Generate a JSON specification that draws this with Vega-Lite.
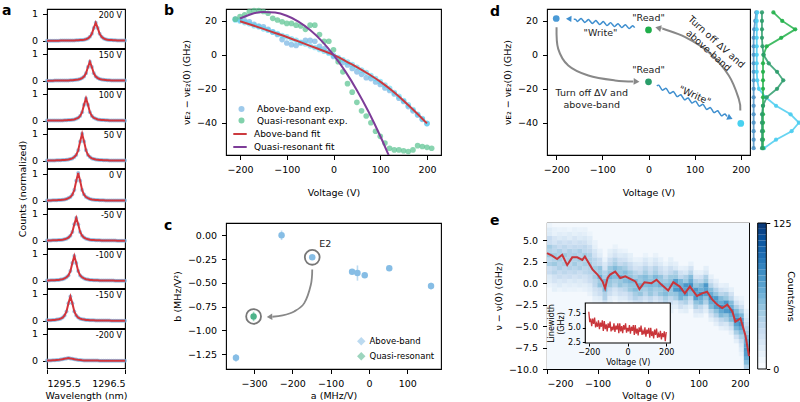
{
"$schema":"https://vega.github.io/schema/vega-lite/v6.json",
"background":"white",
"padding":{"left":2,"top":3,"right":0,"bottom":0},
"config":{
 "font":"DejaVu Sans",
 "view":{"stroke":"black","strokeWidth":1.1},
 "axis":{"domain":false,"grid":false,"tickColor":"black","tickSize":4.5,"tickWidth":1,"tickCount":20,"labelColor":"black","labelFontSize":9.5,"titleFontSize":9.5,"titleFontWeight":"normal","titleColor":"black","titlePadding":5,"labelOverlap":false},
 "axisX":{"labelPadding":4.5,"titlePadding":3},
 "axisY":{"labelPadding":5},
 "legend":{"labelFontSize":9,"labelColor":"black","padding":2,"offset":4,"rowPadding":2,"labelLimit":300},
 "title":{"fontSize":14,"fontWeight":"bold","anchor":"start","offset":0,"baseline":"top","color":"black","frame":"group"}
},
"spacing":33,
"resolve":{"scale":{"color":"independent","stroke":"independent"},"legend":{"color":"independent","stroke":"independent"}},
"hconcat":[
{
 "title":{"text":"a","dx":-45,"dy":14},
 "data":{"values":[
{"w":1295.5,"200 V":0,"150 V":0,"100 V":0.01,"50 V":0.01,"0 V":0.01,"-50 V":0.01,"-100 V":0.01,"-150 V":0.02,"-200 V":0.01},
{"w":1295.525,"200 V":0,"150 V":0,"100 V":0.01,"50 V":0.01,"0 V":0.01,"-50 V":0.01,"-100 V":0.01,"-150 V":0.02,"-200 V":0.01},
{"w":1295.55,"200 V":0,"150 V":0,"100 V":0.01,"50 V":0.01,"0 V":0.01,"-50 V":0.01,"-100 V":0.02,"-150 V":0.02,"-200 V":0.01},
{"w":1295.575,"200 V":0,"150 V":0,"100 V":0.01,"50 V":0.01,"0 V":0.02,"-50 V":0.02,"-100 V":0.02,"-150 V":0.03,"-200 V":0.02},
{"w":1295.6,"200 V":0,"150 V":0.01,"100 V":0.01,"50 V":0.01,"0 V":0.02,"-50 V":0.02,"-100 V":0.02,"-150 V":0.03,"-200 V":0.02},
{"w":1295.625,"200 V":0,"150 V":0.01,"100 V":0.01,"50 V":0.02,"0 V":0.02,"-50 V":0.02,"-100 V":0.03,"-150 V":0.05,"-200 V":0.03},
{"w":1295.65,"200 V":0,"150 V":0.01,"100 V":0.01,"50 V":0.02,"0 V":0.03,"-50 V":0.03,"-100 V":0.03,"-150 V":0.06,"-200 V":0.035},
{"w":1295.675,"200 V":0.01,"150 V":0.01,"100 V":0.01,"50 V":0.02,"0 V":0.03,"-50 V":0.03,"-100 V":0.05,"-150 V":0.08,"-200 V":0.045},
{"w":1295.7,"200 V":0.01,"150 V":0.01,"100 V":0.01,"50 V":0.03,"0 V":0.04,"-50 V":0.04,"-100 V":0.06,"-150 V":0.12,"-200 V":0.06},
{"w":1295.725,"200 V":0.01,"150 V":0.01,"100 V":0.02,"50 V":0.03,"0 V":0.05,"-50 V":0.06,"-100 V":0.09,"-150 V":0.2,"-200 V":0.075},
{"w":1295.75,"200 V":0.01,"150 V":0.01,"100 V":0.02,"50 V":0.04,"0 V":0.07,"-50 V":0.08,"-100 V":0.13,"-150 V":0.35,"-200 V":0.09},
{"w":1295.775,"200 V":0.01,"150 V":0.01,"100 V":0.03,"50 V":0.05,"0 V":0.1,"-50 V":0.12,"-100 V":0.2,"-150 V":0.65,"-200 V":0.1},
{"w":1295.8,"200 V":0.01,"150 V":0.02,"100 V":0.03,"50 V":0.07,"0 V":0.14,"-50 V":0.19,"-100 V":0.36,"-150 V":0.9,"-200 V":0.09},
{"w":1295.825,"200 V":0.01,"150 V":0.02,"100 V":0.04,"50 V":0.09,"0 V":0.23,"-50 V":0.33,"-100 V":0.66,"-150 V":0.65,"-200 V":0.075},
{"w":1295.85,"200 V":0.01,"150 V":0.03,"100 V":0.05,"50 V":0.14,"0 V":0.4,"-50 V":0.61,"-100 V":0.92,"-150 V":0.35,"-200 V":0.06},
{"w":1295.875,"200 V":0.02,"150 V":0.04,"100 V":0.08,"50 V":0.22,"0 V":0.74,"-50 V":0.85,"-100 V":0.66,"-150 V":0.2,"-200 V":0.045},
{"w":1295.9,"200 V":0.02,"150 V":0.05,"100 V":0.11,"50 V":0.39,"0 V":1.03,"-50 V":0.61,"-100 V":0.36,"-150 V":0.12,"-200 V":0.035},
{"w":1295.925,"200 V":0.03,"150 V":0.07,"100 V":0.18,"50 V":0.72,"0 V":0.74,"-50 V":0.33,"-100 V":0.2,"-150 V":0.08,"-200 V":0.027},
{"w":1295.95,"200 V":0.03,"150 V":0.1,"100 V":0.32,"50 V":1.0,"0 V":0.4,"-50 V":0.19,"-100 V":0.13,"-150 V":0.06,"-200 V":0.02},
{"w":1295.975,"200 V":0.04,"150 V":0.16,"100 V":0.6,"50 V":0.72,"0 V":0.23,"-50 V":0.12,"-100 V":0.09,"-150 V":0.05,"-200 V":0.015},
{"w":1296.0,"200 V":0.06,"150 V":0.28,"100 V":0.83,"50 V":0.39,"0 V":0.14,"-50 V":0.08,"-100 V":0.06,"-150 V":0.03,"-200 V":0.012},
{"w":1296.025,"200 V":0.09,"150 V":0.51,"100 V":0.6,"50 V":0.22,"0 V":0.1,"-50 V":0.06,"-100 V":0.05,"-150 V":0.03,"-200 V":0.01},
{"w":1296.05,"200 V":0.15,"150 V":0.71,"100 V":0.32,"50 V":0.14,"0 V":0.07,"-50 V":0.04,"-100 V":0.03,"-150 V":0.02,"-200 V":0.01},
{"w":1296.075,"200 V":0.26,"150 V":0.51,"100 V":0.18,"50 V":0.09,"0 V":0.05,"-50 V":0.03,"-100 V":0.03,"-150 V":0.02,"-200 V":0.01},
{"w":1296.1,"200 V":0.48,"150 V":0.28,"100 V":0.11,"50 V":0.07,"0 V":0.04,"-50 V":0.03,"-100 V":0.02,"-150 V":0.02,"-200 V":0.01},
{"w":1296.125,"200 V":0.67,"150 V":0.16,"100 V":0.08,"50 V":0.05,"0 V":0.03,"-50 V":0.02,"-100 V":0.02,"-150 V":0.01,"-200 V":0.01},
{"w":1296.15,"200 V":0.48,"150 V":0.1,"100 V":0.05,"50 V":0.04,"0 V":0.03,"-50 V":0.02,"-100 V":0.02,"-150 V":0.01,"-200 V":0.01},
{"w":1296.175,"200 V":0.26,"150 V":0.07,"100 V":0.04,"50 V":0.03,"0 V":0.02,"-50 V":0.02,"-100 V":0.01,"-150 V":0.01,"-200 V":0},
{"w":1296.2,"200 V":0.15,"150 V":0.05,"100 V":0.03,"50 V":0.03,"0 V":0.02,"-50 V":0.01,"-100 V":0.01,"-150 V":0.01,"-200 V":0},
{"w":1296.225,"200 V":0.09,"150 V":0.04,"100 V":0.03,"50 V":0.02,"0 V":0.02,"-50 V":0.01,"-100 V":0.01,"-150 V":0.01,"-200 V":0},
{"w":1296.25,"200 V":0.06,"150 V":0.03,"100 V":0.02,"50 V":0.02,"0 V":0.01,"-50 V":0.01,"-100 V":0.01,"-150 V":0.01,"-200 V":0},
{"w":1296.275,"200 V":0.04,"150 V":0.02,"100 V":0.02,"50 V":0.02,"0 V":0.01,"-50 V":0.01,"-100 V":0.01,"-150 V":0.01,"-200 V":0},
{"w":1296.3,"200 V":0.03,"150 V":0.02,"100 V":0.01,"50 V":0.01,"0 V":0.01,"-50 V":0.01,"-100 V":0.01,"-150 V":0.01,"-200 V":0},
{"w":1296.325,"200 V":0.03,"150 V":0.01,"100 V":0.01,"50 V":0.01,"0 V":0.01,"-50 V":0.01,"-100 V":0.01,"-150 V":0,"-200 V":0},
{"w":1296.35,"200 V":0.02,"150 V":0.01,"100 V":0.01,"50 V":0.01,"0 V":0.01,"-50 V":0.01,"-100 V":0.01,"-150 V":0,"-200 V":0},
{"w":1296.375,"200 V":0.02,"150 V":0.01,"100 V":0.01,"50 V":0.01,"0 V":0.01,"-50 V":0.01,"-100 V":0,"-150 V":0,"-200 V":0},
{"w":1296.4,"200 V":0.01,"150 V":0.01,"100 V":0.01,"50 V":0.01,"0 V":0.01,"-50 V":0,"-100 V":0,"-150 V":0,"-200 V":0},
{"w":1296.425,"200 V":0.01,"150 V":0.01,"100 V":0.01,"50 V":0.01,"0 V":0.01,"-50 V":0,"-100 V":0,"-150 V":0,"-200 V":0},
{"w":1296.45,"200 V":0.01,"150 V":0.01,"100 V":0.01,"50 V":0.01,"0 V":0.01,"-50 V":0,"-100 V":0,"-150 V":0,"-200 V":0},
{"w":1296.475,"200 V":0.01,"150 V":0.01,"100 V":0.01,"50 V":0.01,"0 V":0.01,"-50 V":0,"-100 V":0,"-150 V":0,"-200 V":0},
{"w":1296.5,"200 V":0.01,"150 V":0.01,"100 V":0,"50 V":0.01,"0 V":0.01,"-50 V":0,"-100 V":0,"-150 V":0,"-200 V":0}
 ]},
 "transform":[{"fold":["200 V","150 V","100 V","50 V","0 V","-50 V","-100 V","-150 V","-200 V"],"as":["V","c"]}],
 "facet":{"row":{"field":"V","type":"nominal","title":"Counts (normalized)","sort":["200 V","150 V","100 V","50 V","0 V","-50 V","-100 V","-150 V","-200 V"],"header":{"labels":false,"labelPadding":0,"titleFontSize":9.5,"titleFontWeight":"normal","titleColor":"black","titlePadding":-6}}},
 "spacing":0,
 "bounds":"flush",
 "spec":{
  "width":78,"height":39.1,
  "layer":[
   {"mark":{"type":"point","filled":true,"size":16,"color":"#7eb2de","opacity":0.75},
    "encoding":{
     "x":{"field":"w","type":"quantitative","scale":{"domain":[1295.5,1296.5],"nice":false,"zero":false},"axis":{"values":[1295.5,1296.5],"format":".1f","title":"Wavelength (nm)"}},
     "y":{"field":"c","type":"quantitative","scale":{"domain":[-0.27,1.18],"nice":false,"zero":false},"axis":{"values":[0,1],"format":"d","title":null}}}},
   {"mark":{"type":"line","color":"#d3343b","strokeWidth":2},
    "encoding":{"x":{"field":"w","type":"quantitative"},"y":{"field":"c","type":"quantitative"}}},
   {"transform":[{"filter":"datum.w == 1295.5"}],
    "mark":{"type":"text","align":"right","baseline":"top","fontSize":8,"dx":-3,"dy":3,"color":"black"},
    "encoding":{"x":{"datum":1296.5},"y":{"datum":1.18},"text":{"field":"V"}}}
  ]
 }
},
{
 "spacing":15,
 "resolve":{"scale":{"color":"independent","stroke":"independent"},"legend":{"color":"independent","stroke":"independent"}},
 "vconcat":[
 {
  "spacing":47,
  "resolve":{"scale":{"color":"independent","stroke":"independent"},"legend":{"color":"independent","stroke":"independent"}},
  "hconcat":[
  {
   "title":{"text":"b","dx":-62,"dy":14},
   "width":215,"height":146,
   "layer":[
    {"data":{"values":[{"s":"Above-band exp.","v":[-210,-200,-190,-180,-170,-160,-150,-140,-130,-120,-110,-100,-90,-80,-70,-60,-50,-40,-30,-20,-10,0,10,20,30,40,50,60,70,80,90,100,110,120,130,140,150,160,170,180,190,200],"y":[21,20.5,20,19.5,18,17,16.5,15,13.5,12,9,7,6,5.5,7,8.5,8.5,8,5,3.5,1.5,-1,-2.5,-4.5,-6,-8,-10,-11.5,-13.5,-14,-16,-17.5,-19.5,-21,-23,-25.5,-27.5,-30.5,-33,-35.5,-38,-40.5]}]},
     "transform":[{"flatten":["v","y"]}],
     "mark":{"type":"point","filled":true,"size":32,"opacity":0.8},
     "encoding":{
      "x":{"field":"v","type":"quantitative","scale":{"domain":[-230,230],"nice":false,"zero":false},"axis":{"values":[-200,-100,0,100,200],"title":"Voltage (V)","titlePadding":14}},
      "y":{"field":"y","type":"quantitative","scale":{"domain":[-59,27],"nice":false,"zero":false},"axis":{"values":[-40,-20,0,20],"title":"νᴇ₂ − νᴇ₂(0) (GHz)"}},
      "color":{"field":"s","type":"nominal","scale":{"domain":["Above-band exp.","Quasi-resonant exp."],"range":["#86bde6","#62c596"]},"legend":{"orient":"none","legendX":9,"legendY":93.5,"title":null,"symbolType":"circle","symbolSize":36,"labelOffset":11,"rowPadding":1.5}}}},
    {"data":{"values":[{"v":[-210,-200,-190,-180,-170,-160,-150,-140,-130,-120,-110,-100,-90,-80,-70,-60,-50,-40,-30,-20,-10,0,10,20,30,40,50,60,70,80,90,100,110,120,130,140,150,160,170,180,190,200],"y":[20.5,19.9,19.0,18.3,17.2,16.5,15.3,14.5,13.4,12.5,11.4,10.6,9.5,8.6,7.4,6.4,5.3,4.3,3.2,2.1,1.0,-0.3,-1.6,-2.9,-4.3,-5.7,-7.3,-9,-10.5,-12.2,-14,-15.8,-17.8,-19.8,-22.2,-24.5,-27,-29.5,-32.2,-35,-37.6,-40.4]}]},
     "transform":[{"flatten":["v","y"]}],
     "mark":{"type":"point","filled":true,"size":32,"opacity":0.55,"color":"#4fd2f2"},
     "encoding":{"x":{"field":"v","type":"quantitative"},"y":{"field":"y","type":"quantitative"}}},
    {"data":{"values":[{"s":"Quasi-resonant exp.","v":[-210,-200,-190,-180,-170,-160,-150,-140,-130,-120,-110,-100,-90,-80,-70,-60,-50,-40,-30,-20,-10,0,10,20,30,40,50,60,70,80,90,100,110,120,130,140,150,160,170,180,190,200,210],"y":[21,22.5,23.5,25.5,26,26,25.5,24.5,21.5,20.5,19.5,18.5,18.5,17.5,17,15,17.5,17.5,12,8,8,3,-4,-10,-17,-22,-28,-33,-36,-40,-45,-48,-52,-55,-56,-56,-56.5,-57,-56,-53.5,-54,-54.5,-55]}]},
     "transform":[{"flatten":["v","y"]}],
     "mark":{"type":"point","filled":true,"size":32,"opacity":0.75},
     "encoding":{"x":{"field":"v","type":"quantitative"},"y":{"field":"y","type":"quantitative"},
      "color":{"field":"s","type":"nominal","scale":{"domain":["Above-band exp.","Quasi-resonant exp."],"range":["#86bde6","#62c596"]},"legend":{"orient":"none","legendX":9,"legendY":93.5,"title":null,"symbolType":"circle","symbolSize":36,"labelOffset":11,"rowPadding":1.5}}}},
    {"data":{"values":[
      {"f":"Above-band fit","v":[-200,-175,-150,-125,-100,-75,-50,-25,0,25,50,75,100,125,150,175,200],"y":[19.8,17.6,15.3,12.9,10.5,7.9,5.3,2.7,0,-3.5,-7.2,-11.3,-15.8,-21,-27,-33.5,-40.4]},
      {"f":"Quasi-resonant fit","v":[-200,-175,-150,-125,-100,-75,-50,-25,0,25,50,75,100,125],"y":[21.4,24.1,25.3,24.9,23.0,19.6,14.6,8.1,0,-9.6,-20.8,-33.5,-47.8,-63.6]}]},
     "transform":[{"flatten":["v","y"]}],
     "mark":{"type":"line","strokeWidth":2,"clip":true,"interpolate":"monotone"},
     "encoding":{"x":{"field":"v","type":"quantitative"},"y":{"field":"y","type":"quantitative"},
      "stroke":{"field":"f","type":"nominal","scale":{"domain":["Above-band fit","Quasi-resonant fit"],"range":["#cc3a3f","#7d3c98"]},"legend":{"orient":"none","legendX":4,"legendY":115,"title":null,"symbolType":"stroke","symbolStrokeWidth":2,"symbolSize":180,"labelOffset":6,"rowPadding":-1.5}}}}
   ]
  },
  {
   "title":{"text":"d","dx":-57,"dy":14},
   "width":203,"height":146,
   "layer":[
    {"layer":[
     {"data":{"values":[
       {"id":"a1","x":[-199.3,-195.7,-173.9,-130.4,-72.6,-33],"y":[16.3,3.5,-6.3,-12.2,-15.1,-15.7]},
       {"id":"a2","x":[199,195.6,174,130,79.6,36,28],"y":[-32.8,-25.9,-12.2,1.6,10.4,14.9,15.5]}]},
      "transform":[{"flatten":["x","y"]}],
      "mark":{"type":"line","interpolate":"cardinal","color":"#888888","strokeWidth":2},
      "encoding":{
       "x":{"field":"x","type":"quantitative","scale":{"domain":[-220,220],"nice":false,"zero":false},"axis":{"values":[-200,-100,0,100,200],"title":"Voltage (V)","titlePadding":14}},
       "y":{"field":"y","type":"quantitative","scale":{"domain":[-59,27],"nice":false,"zero":false},"axis":{"values":[-40,-20,0,20],"title":"νᴇ₂ − νᴇ₂(0) (GHz)"}},
       "detail":{"field":"id"}}},
     {"data":{"values":[{"x":-28,"y":-15.7,"a":92},{"x":23,"y":15.7,"a":283}]},
      "mark":{"type":"point","shape":"triangle","filled":true,"size":45,"color":"#888888","opacity":1},
      "encoding":{"x":{"field":"x","type":"quantitative"},"y":{"field":"y","type":"quantitative"},"angle":{"field":"a","type":"quantitative","scale":null}}},
     {"data":{"values":[
       {"id":"w1","x":[-30,-34,-38,-42,-46,-50,-54,-58,-62,-66,-70,-74,-78,-82,-86,-90,-94,-98,-102,-106,-110,-114,-118,-122,-126,-130,-134,-138,-142,-146,-150,-154,-158,-162],"y":[16.0,17.15,16.3,15.45,16.6,17.76,16.9,16.06,17.2,18.36,17.5,16.67,17.8,18.97,18.1,17.27,18.4,19.58,18.7,17.88,19.0,20.18,19.33,18.48,19.64,20.79,19.94,19.1,20.24,21.4,20.55,19.7,20.85,21.0]},
       {"id":"w2","x":[18,22,26,30,34,38,42,46,50,54,58,62,66,70,74,78,82,86,90,94,98,102,106,110,114,118,122,126,130,134,138,142,146,150,154,158,162,166,170],"y":[-18.4,-17.87,-19.34,-20.81,-20.28,-19.76,-21.23,-22.7,-22.17,-21.64,-23.11,-24.58,-24.05,-23.52,-24.99,-26.47,-25.94,-25.41,-26.88,-28.35,-27.82,-27.29,-28.76,-30.23,-29.7,-29.18,-30.65,-32.12,-31.59,-31.06,-32.53,-34.0,-33.47,-32.94,-34.41,-35.89,-35.36,-34.83,-36.3]}]},
      "transform":[{"flatten":["x","y"]}],
      "mark":{"type":"line","interpolate":"cardinal","color":"#3f8fcf","strokeWidth":1.5},
      "encoding":{"x":{"field":"x","type":"quantitative"},"y":{"field":"y","type":"quantitative"},"detail":{"field":"id"}}},
     {"data":{"values":[{"x":-171,"y":21.2,"a":273},{"x":175,"y":-36.9,"a":114}]},
      "mark":{"type":"point","shape":"triangle","filled":true,"size":40,"color":"#3f8fcf","opacity":1},
      "encoding":{"x":{"field":"x","type":"quantitative"},"y":{"field":"y","type":"quantitative"},"angle":{"field":"a","type":"quantitative","scale":null}}},
     {"data":{"values":[{"x":-200,"y":21.4,"k":"pa"},{"x":0,"y":14.7,"k":"pb"},{"x":0,"y":-15.9,"k":"pc"},{"x":200,"y":-40.4,"k":"pd"}]},
      "mark":{"type":"point","filled":true,"size":45,"opacity":1},
      "encoding":{"x":{"field":"x","type":"quantitative"},"y":{"field":"y","type":"quantitative"},
       "color":{"field":"k","type":"nominal","scale":{"domain":["pa","pb","pc","pd"],"range":["#4a9ad6","#1fae4a","#2a9d6a","#48d1f0"]},"legend":null}}},
     {"data":{"values":[
       {"x":0,"y":21.8,"t":"\"Read\"","a":0},
       {"x":-104,"y":12.6,"t":"\"Write\"","a":0},
       {"x":0,"y":-8.8,"t":"\"Read\"","a":0},
       {"x":-123,"y":-22.5,"t":"Turn off ΔV and","a":0},
       {"x":-123,"y":-29.8,"t":"above-band","a":0},
       {"x":100,"y":-24,"t":"\"Write\"","a":24},
       {"x":147,"y":7.5,"t":"Turn off ΔV and","a":42},
       {"x":130,"y":2.5,"t":"above-band","a":42}]},
      "mark":{"type":"text","fontSize":9.5,"align":"center","baseline":"middle","color":"#222222"},
      "encoding":{"x":{"field":"x","type":"quantitative"},"y":{"field":"y","type":"quantitative"},"text":{"field":"t"},"angle":{"field":"a","type":"quantitative","scale":null}}}
    ]},
    {"data":{"values":[
      {"s":"sb","g":[25,20,15,10,5,0,-5,-10,-15,-20,-25,-30,-35,-40,-45,-50,-55],"x":[0.12,0.1,0.08,0.07,0.07,0.07,0.07,0.07,0.07,0.07,0.07,0.07,0.07,0.07,0.07,0.07,0.07]},
      {"s":"sc","g":[25,20,15,10,5,0,-5,-10,-15,-20,-25,-30,-35,-40,-45,-50,-55],"x":[0.14,0.13,0.13,0.13,0.13,0.13,0.13,0.13,0.14,0.17,0.3,0.5,0.78,0.94,0.8,0.5,0.27]},
      {"s":"sg","g":[25,20,15,10,5,0,-5,-10,-15,-20,-25,-30,-35,-40,-45,-50,-55],"x":[0.45,0.62,0.87,0.6,0.32,0.26,0.25,0.25,0.25,0.25,0.25,0.25,0.25,0.25,0.25,0.25,0.25]},
      {"s":"sd","g":[25,20,15,10,5,0,-5,-10,-15,-20,-25,-30,-35,-40,-45,-50,-55],"x":[0.23,0.23,0.23,0.23,0.24,0.26,0.36,0.52,0.64,0.52,0.32,0.25,0.23,0.23,0.23,0.23,0.23]}]},
     "transform":[{"flatten":["g","x"]}],
     "layer":[
      {"mark":{"type":"line","strokeWidth":1.8,"opacity":0.85},
       "encoding":{
        "x":{"field":"x","type":"quantitative","scale":{"domain":[0,1],"range":[203,255]},"axis":null},
        "y":{"field":"g","type":"quantitative","scale":{"domain":[-59,27],"nice":false,"zero":false}},
        "color":{"field":"s","type":"nominal","scale":{"domain":["sb","sc","sg","sd"],"range":["#4f93c6","#4ccdef","#22b04a","#2e9c6c"]},"legend":null},
        "order":{"field":"g","type":"quantitative"}}},
      {"mark":{"type":"point","filled":true,"size":18,"opacity":0.9},
       "encoding":{
        "x":{"field":"x","type":"quantitative"},
        "y":{"field":"g","type":"quantitative"},
        "color":{"field":"s","type":"nominal","legend":null}}}
     ]}
   ],
   "resolve":{"scale":{"x":"independent","color":"independent"}}
  }
  ]
 },
 {
  "spacing":47,
  "resolve":{"scale":{"color":"independent","stroke":"independent"},"legend":{"color":"independent","stroke":"independent"}},
  "hconcat":[
  {
   "title":{"text":"c","dx":-62,"dy":14},
   "width":215,"height":146,
   "layer":[
    {"data":{"values":[
      {"s":"Above-band","a":-347,"b":-1.288,"lo":-1.328,"hi":-1.248},
      {"s":"Above-band","a":-228,"b":0.0,"lo":-0.05,"hi":0.05},
      {"s":"Above-band","a":-148,"b":-0.232,"lo":-0.252,"hi":-0.212},
      {"s":"Above-band","a":-44,"b":-0.383,"lo":-0.403,"hi":-0.363},
      {"s":"Above-band","a":-30,"b":-0.397,"lo":-0.477,"hi":-0.317},
      {"s":"Above-band","a":-11,"b":-0.421,"lo":-0.441,"hi":-0.401},
      {"s":"Above-band","a":53,"b":-0.347,"lo":-0.362,"hi":-0.332},
      {"s":"Above-band","a":162,"b":-0.534,"lo":-0.569,"hi":-0.499},
      {"s":"Quasi-resonant","a":-301,"b":-0.853,"lo":-0.903,"hi":-0.803}]},
     "layer":[
      {"mark":{"type":"rule","strokeWidth":1.6,"opacity":0.55},
       "encoding":{
        "x":{"field":"a","type":"quantitative","scale":{"domain":[-373,188],"nice":false,"zero":false},"axis":{"values":[-300,-200,-100,0,100],"title":"a (MHz/V)"}},
        "y":{"field":"lo","type":"quantitative","scale":{"domain":[-1.405,0.129],"nice":false,"zero":false},"axis":{"values":[-1.25,-1,-0.75,-0.5,-0.25,0],"format":".2f","title":"b (MHz/V²)"}},
        "y2":{"field":"hi"},
        "color":{"field":"s","type":"nominal","scale":{"domain":["Above-band","Quasi-resonant"],"range":["#86bde5","#4db389"]},"legend":{"orient":"bottom-right","title":null,"symbolType":"diamond","symbolSize":40,"offset":4,"rowPadding":2,"labelFontSize":8.5}}}},
      {"mark":{"type":"point","filled":true,"size":42,"opacity":1},
       "encoding":{
        "x":{"field":"a","type":"quantitative"},
        "y":{"field":"b","type":"quantitative"},
        "color":{"field":"s","type":"nominal","scale":{"domain":["Above-band","Quasi-resonant"],"range":["#86bde5","#4db389"]},"legend":{"orient":"bottom-right","title":null,"symbolType":"diamond","symbolSize":40,"offset":4,"rowPadding":2,"labelFontSize":8.5}}}}
     ]},
    {"data":{"values":[{"a":-148,"b":-0.232},{"a":-301,"b":-0.853}]},
     "mark":{"type":"point","shape":"circle","size":220,"stroke":"#777777","strokeWidth":1.8,"filled":false,"opacity":1},
     "encoding":{"x":{"field":"a","type":"quantitative"},"y":{"field":"b","type":"quantitative"}}},
    {"data":{"values":[{"x":[-148,-151.6,-168.8,-195,-225,-252],"y":[-0.36,-0.52,-0.713,-0.8,-0.842,-0.856]}]},
     "transform":[{"flatten":["x","y"]}],
     "mark":{"type":"line","interpolate":"cardinal","color":"#888888","strokeWidth":1.8},
     "encoding":{"x":{"field":"x","type":"quantitative"},"y":{"field":"y","type":"quantitative"}}},
    {"data":{"values":[{"x":-257,"y":-0.857,"a":268}]},
     "mark":{"type":"point","shape":"triangle","filled":true,"size":40,"color":"#888888","opacity":1},
     "encoding":{"x":{"field":"x","type":"quantitative"},"y":{"field":"y","type":"quantitative"},"angle":{"field":"a","type":"quantitative","scale":null}}},
    {"data":{"values":[{"x":-114,"y":-0.092,"t":"E2"}]},
     "mark":{"type":"text","fontSize":9.5,"align":"center","baseline":"middle","color":"#222222"},
     "encoding":{"x":{"field":"x","type":"quantitative"},"y":{"field":"y","type":"quantitative"},"text":{"field":"t"}}}
   ]
  },
  {
   "title":{"text":"e","dx":-57,"dy":14},
   "width":202,"height":146,
   "layer":[
    {"layer":[
     {"data":{"values":[{"x0":-200,"x1":200,"y0":-10,"y1":7}]},
      "mark":{"type":"rect","fill":"#f3f8fd"},
      "encoding":{
       "x":{"field":"x0","type":"quantitative","scale":{"domain":[-200,200],"nice":false,"zero":false},"axis":{"values":[-200,-100,0,100,200],"title":"Voltage (V)"}},
       "x2":{"field":"x1"},
       "y":{"field":"y0","type":"quantitative","scale":{"domain":[-10,7],"nice":false,"zero":false},"axis":{"values":[-10,-7.5,-5,-2.5,0,2.5,5],"format":".1f","title":"ν − ν(0) (GHz)"}},
       "y2":{"field":"y1"}}},
     {"data":{"values":[
{"v":-195,"y":[-0.25,0.25,0.75,1.25,1.75,2.25,2.75,3.25,3.75,4.25,4.75,5.25,5.75,6.25,6.75],"c":[8,15,17,30,27,42,35,48,38,44,28,30,16,15,7]},
{"v":-185,"y":[-0.75,-0.25,0.25,0.75,1.25,1.75,2.25,2.75,3.25,3.75,4.25,4.75,5.25,5.75,6.25],"c":[11,12,22,24,36,33,47,40,45,35,36,22,21,10,10]},
{"v":-175,"y":[-0.75,-0.25,0.25,0.75,1.25,1.75,2.25,2.75,3.25,3.75,4.25,4.75,5.25,5.75,6.25],"c":[7,16,18,29,30,40,38,46,39,41,30,29,17,14,8]},
{"v":-165,"y":[-0.75,-0.25,0.25,0.75,1.25,1.75,2.25,2.75,3.25,3.75,4.25,4.75,5.25,5.75,6.25],"c":[10,11,21,25,35,34,44,38,47,33,35,24,20,12,9]},
{"v":-155,"y":[-0.75,-0.25,0.25,0.75,1.25,1.75,2.25,2.75,3.25,3.75,4.25,4.75,5.25,5.75,6.25],"c":[8,14,16,28,31,39,36,44,40,40,29,28,15,15,6]},
{"v":-145,"y":[-0.75,-0.25,0.25,0.75,1.25,1.75,2.25,2.75,3.25,3.75,4.25,4.75,5.25,5.75,6.25],"c":[9,12,20,23,34,36,45,41,43,36,33,23,21,11,10]},
{"v":-135,"y":[-0.75,-0.25,0.25,0.75,1.25,1.75,2.25,2.75,3.25,3.75,4.25,4.75,5.25,5.75,6.25],"c":[7,15,17,27,29,41,37,47,38,42,31,27,16,14,8]},
{"v":-125,"y":[-0.75,-0.25,0.25,0.75,1.25,1.75,2.25,2.75,3.25,3.75,4.25,4.75,5.25,5.75,6.25],"c":[10,13,21,24,35,35,43,40,46,34,34,25,19,12,9]},
{"v":-115,"y":[-1.25,-0.75,-0.25,0.25,0.75,1.25,1.75,2.25,2.75,3.25,3.75,4.25,4.75,5.25,5.75],"c":[9,14,18,28,31,38,39,45,41,40,32,27,17,14,7]},
{"v":-105,"y":[-2.25,-1.75,-1.25,-0.75,-0.25,0.25,0.75,1.25,1.75,2.25,2.75,3.25,3.75,4.25,4.75],"c":[8,12,20,25,34,36,44,42,45,35,35,24,20,11,9]},
{"v":-95,"y":[-2.25,-1.75,-1.25,-0.75,-0.25,0.25,0.75,1.25,1.75,2.25,2.75,3.25,3.75],"c":[10,15,28,31,50,46,62,48,50,31,28,14,10]},
{"v":-85,"y":[-3.25,-2.75,-2.25,-1.75,-1.25,-0.75,-0.25,0.25,0.75,1.25,1.75,2.25,2.75],"c":[8,19,22,39,41,56,50,58,42,38,22,18,8]},
{"v":-75,"y":[-2.25,-1.75,-1.25,-0.75,-0.25,0.25,0.75,1.25,1.75,2.25,2.75,3.25,3.75],"c":[11,14,27,33,47,49,60,50,48,33,27,15,11]},
{"v":-65,"y":[-1.75,-1.25,-0.75,-0.25,0.25,0.75,1.25,1.75,2.25,2.75,3.25,3.75,4.25],"c":[9,18,23,37,44,55,52,56,43,37,23,17,9]},
{"v":-55,"y":[-2.25,-1.75,-1.25,-0.75,-0.25,0.25,0.75,1.25,1.75,2.25,2.75,3.25,3.75],"c":[10,16,26,32,49,48,61,49,49,32,26,16,10]},
{"v":-45,"y":[-2.25,-1.75,-1.25,-0.75,-0.25,0.25,0.75,1.25,1.75,2.25,2.75,3.25,3.75],"c":[8,17,24,36,43,54,53,55,44,36,24,18,8]},
{"v":-35,"y":[-2.75,-2.25,-1.75,-1.25,-0.75,-0.25,0.25,0.75,1.25,1.75,2.25,2.75,3.25],"c":[11,15,28,33,48,50,58,51,47,33,27,15,11]},
{"v":-25,"y":[-3.25,-2.75,-2.25,-1.75,-1.25,-0.75,-0.25,0.25,0.75,1.25,1.75,2.25,2.75],"c":[9,18,23,38,44,55,51,57,43,37,23,18,9]},
{"v":-15,"y":[-3.25,-2.75,-2.25,-1.75,-1.25,-0.75,-0.25,0.25,0.75,1.25,1.75,2.25,2.75],"c":[10,16,26,32,49,47,62,48,50,32,26,16,10]},
{"v":-5,"y":[-2.75,-2.25,-1.75,-1.25,-0.75,-0.25,0.25,0.75,1.25,1.75,2.25,2.75,3.25],"c":[8,17,24,36,43,55,54,55,44,36,24,18,8]},
{"v":5,"y":[-3.25,-2.75,-2.25,-1.75,-1.25,-0.75,-0.25,0.25,0.75,1.25,1.75,2.25,2.75],"c":[11,15,28,33,48,50,57,51,47,33,27,15,11]},
{"v":15,"y":[-2.75,-2.25,-1.75,-1.25,-0.75,-0.25,0.25,0.75,1.25,1.75,2.25,2.75,3.25],"c":[9,18,23,38,44,54,52,57,43,37,23,18,9]},
{"v":25,"y":[-3.25,-2.75,-2.25,-1.75,-1.25,-0.75,-0.25,0.25,0.75,1.25,1.75,2.25,2.75],"c":[10,16,26,32,49,47,61,48,50,32,26,16,10]},
{"v":35,"y":[-3.75,-3.25,-2.75,-2.25,-1.75,-1.25,-0.75,-0.25,0.25,0.75,1.25,1.75,2.25],"c":[8,17,24,36,43,55,54,55,44,36,24,18,8]},
{"v":45,"y":[-3.25,-2.75,-2.25,-1.75,-1.25,-0.75,-0.25,0.25,0.75,1.25,1.75,2.25,2.75],"c":[11,15,28,33,48,50,58,51,47,33,27,15,11]},
{"v":55,"y":[-2.75,-2.25,-1.75,-1.25,-0.75,-0.25,0.25,0.75,1.25,1.75,2.25],"c":[12,20,42,50,75,66,73,48,40,19,12]},
{"v":65,"y":[-3.25,-2.75,-2.25,-1.75,-1.25,-0.75,-0.25,0.25,0.75,1.25,1.75],"c":[10,25,34,58,62,80,61,57,34,24,10]},
{"v":75,"y":[-3.25,-2.75,-2.25,-1.75,-1.25,-0.75,-0.25,0.25,0.75,1.25,1.75],"c":[13,19,40,49,72,68,76,47,41,20,12]},
{"v":85,"y":[-2.75,-2.25,-1.75,-1.25,-0.75,-0.25,0.25,0.75,1.25,1.75,2.25],"c":[11,24,35,56,64,78,63,55,36,23,10]},
{"v":95,"y":[-3.75,-3.25,-2.75,-2.25,-1.75,-1.25,-0.75,-0.25,0.25,0.75,1.25],"c":[12,21,41,51,73,67,74,49,39,21,11]},
{"v":105,"y":[-3.75,-3.25,-2.75,-2.25,-1.75,-1.25,-0.75,-0.25,0.25,0.75,1.25],"c":[10,24,34,57,63,79,62,56,35,24,10]},
{"v":115,"y":[-3.25,-2.75,-2.25,-1.75,-1.25,-0.75,-0.25,0.25,0.75,1.25,1.75],"c":[13,20,40,50,71,69,75,48,41,19,12]},
{"v":125,"y":[-4.25,-3.75,-3.25,-2.75,-2.25,-1.75,-1.25,-0.75,-0.25,0.25,0.75],"c":[11,23,36,55,65,77,64,54,37,22,11]},
{"v":135,"y":[-4.75,-4.25,-3.75,-3.25,-2.75,-2.25,-1.75,-1.25,-0.75,-0.25,0.25],"c":[12,21,39,52,70,70,73,50,38,21,12]},
{"v":145,"y":[-5.25,-4.75,-4.25,-3.75,-3.25,-2.75,-2.25,-1.75,-1.25,-0.75,-0.25],"c":[10,24,35,56,66,80,64,55,36,24,10]},
{"v":155,"y":[-5.25,-4.75,-4.25,-3.75,-3.25,-2.75,-2.25,-1.75,-1.25,-0.75,-0.25],"c":[13,20,41,50,74,67,76,48,40,20,12]},
{"v":165,"y":[-5.75,-5.25,-4.75,-4.25,-3.75,-3.25,-2.75,-2.25,-1.75,-1.25,-0.75],"c":[11,23,37,56,64,79,63,55,35,23,11]},
{"v":175,"y":[-6.75,-6.25,-5.75,-5.25,-4.75,-4.25,-3.75,-3.25,-2.75,-2.25,-1.75],"c":[12,24,42,58,70,82,68,56,40,24,12]},
{"v":185,"y":[-8.25,-7.75,-7.25,-6.75,-6.25,-5.75,-5.25,-4.75,-4.25,-3.75,-3.25,-2.75,-2.25,-1.75],"c":[8,14,20,30,42,55,68,80,70,58,40,26,14,8]},
{"v":195,"y":[-9.75,-9.25,-8.75,-8.25,-7.75,-7.25,-6.75,-6.25,-5.75,-5.25,-4.75,-4.25,-3.75,-3.25],"c":[40,55,65,72,75,70,62,55,45,38,30,22,15,10]}
     ]},
      "transform":[{"flatten":["y","c"]}],
      "mark":{"type":"rect","width":5.3,"height":4.5,"clip":true},
      "encoding":{
       "x":{"field":"v","type":"quantitative"},
       "y":{"field":"y","type":"quantitative"},
       "color":{"field":"c","type":"quantitative","scale":{"domain":[0,125],"range":["#f7fbff","#deebf7","#c6dbef","#9ecae1","#6baed6","#4292c6","#2171b5","#08519c","#08306b"]},"legend":null}}},
     {"data":{"values":[{"v":[-200,-190,-180,-170,-160,-150,-140,-130,-125,-120,-110,-100,-90,-85,-80,-75,-65,-55,-45,-35,-25,-17,-7,7,17,27,40,50,63,73,83,97,107,117,127,137,147,157,167,173,183,193,200],"y":[3.5,3.2,2.8,3.3,2.1,3.0,3.0,2.7,3.1,2.6,1.6,1.0,0.2,-0.6,0.6,1.0,1.35,0.6,0.8,0.5,0.2,-0.7,0.1,0.0,0.4,-0.2,-0.85,0.1,-0.4,-1.2,-0.4,-1.5,-1.2,-1.0,-1.9,-2.5,-2.9,-2.5,-3.3,-4.5,-4.1,-6.1,-8.5]}]},
      "transform":[{"flatten":["v","y"]}],
      "mark":{"type":"line","color":"#c9353a","strokeWidth":2},
      "encoding":{"x":{"field":"v","type":"quantitative"},"y":{"field":"y","type":"quantitative"}}}
    ]},
    {"layer":[
     {"data":{"values":[{"x0":-218,"x1":221,"y0":2.4,"y1":9.3}]},
      "mark":{"type":"rect","fill":"white","stroke":"black","strokeWidth":1.1},
      "encoding":{
       "x":{"field":"x0","type":"quantitative","scale":{"domain":[-218,221],"range":[38.3,123.3],"nice":false,"zero":false},"axis":{"orient":"bottom","offset":-26,"zindex":2,"values":[-200,0,200],"title":"Voltage (V)","labelFontSize":8,"titleFontSize":8,"tickSize":3,"labelPadding":2,"titlePadding":2}},
       "x2":{"field":"x1"},
       "y":{"field":"y0","type":"quantitative","scale":{"domain":[2.4,9.3],"range":[120,80],"nice":false,"zero":false},"axis":{"orient":"left","offset":-38.3,"zindex":2,"values":[2.5,5,7.5],"format":".1f","title":["Linewidth","(GHz)"],"labelFontSize":8,"titleFontSize":8,"tickSize":3,"labelPadding":2,"titlePadding":2}},
       "y2":{"field":"y1"}}},
     {"data":{"values":[{"v":[-200,-195,-190,-185,-180,-175,-170,-165,-160,-155,-150,-145,-140,-135,-130,-125,-120,-115,-110,-105,-100,-95,-90,-85,-80,-75,-70,-65,-60,-55,-50,-45,-40,-35,-30,-25,-20,-15,-10,-5,0,5,10,15,20,25,30,35,40,45,50,55,60,65,70,75,80,85,90,95,100,105,110,115,120,125,130,135,140,145,150,155,160,165,170,175,180,185,190,195,200],"w":[7.8,6.0,6.6,5.3,6.6,5.7,6.8,5.1,5.8,5.2,6.3,4.8,5.9,5.2,6.3,4.5,6.2,4.8,5.6,4.4,5.8,5.0,6.1,4.4,5.2,4.6,5.8,4.3,5.4,4.7,5.8,4.1,5.8,4.4,5.3,4.1,5.5,4.7,5.8,4.2,5.0,4.4,5.5,4.0,5.2,4.5,5.5,3.8,5.5,4.0,4.9,3.7,5.1,4.3,5.4,3.8,4.5,3.9,5.1,3.5,4.7,4.0,5.0,3.3,5.0,3.6,4.4,3.2,4.7,3.8,4.9,3.3,4.0,3.4,4.5,3.0,4.1,3.4,4.4,2.7,4.3]}]},
      "transform":[{"flatten":["v","w"]}],
      "mark":{"type":"line","color":"#c9353a","strokeWidth":1.3},
      "encoding":{"x":{"field":"v","type":"quantitative"},"y":{"field":"w","type":"quantitative"}}}
    ]},
    {"layer":[
     {"data":{"values":[{"v":0,"v2":5},{"v":5,"v2":10},{"v":10,"v2":15},{"v":15,"v2":20},{"v":20,"v2":25},{"v":25,"v2":30},{"v":30,"v2":35},{"v":35,"v2":40},{"v":40,"v2":45},{"v":45,"v2":50},{"v":50,"v2":55},{"v":55,"v2":60},{"v":60,"v2":65},{"v":65,"v2":70},{"v":70,"v2":75},{"v":75,"v2":80},{"v":80,"v2":85},{"v":85,"v2":90},{"v":90,"v2":95},{"v":95,"v2":100},{"v":100,"v2":105},{"v":105,"v2":110},{"v":110,"v2":115},{"v":115,"v2":120},{"v":120,"v2":125}]},
      "mark":{"type":"rect"},
      "encoding":{
       "x":{"datum":0,"type":"quantitative","scale":{"domain":[0,1],"range":[210.7,219.3]},"axis":null},
       "x2":{"datum":1},
       "y":{"field":"v","type":"quantitative","scale":{"domain":[0,125],"nice":false,"zero":false},"axis":{"orient":"right","offset":17.3,"values":[0,125],"format":"d","title":"Counts/ms","tickSize":3.5,"labelPadding":3,"titlePadding":-5}},
       "y2":{"field":"v2"},
       "color":{"field":"v","type":"quantitative","scale":{"domain":[0,125],"range":["#f7fbff","#deebf7","#c6dbef","#9ecae1","#6baed6","#4292c6","#2171b5","#08519c","#08306b"]},"legend":null}}},
     {"data":{"values":[{"a":0}]},
      "mark":{"type":"rect","fill":null,"stroke":"black","strokeWidth":1},
      "encoding":{"x":{"datum":0,"type":"quantitative"},"x2":{"datum":1},"y":{"datum":0,"type":"quantitative"},"y2":{"datum":125}}}
    ]}
   ],
   "resolve":{"scale":{"x":"independent","y":"independent","color":"independent"},"axis":{"x":"independent","y":"independent"}}
  }
  ]
 }
 ]
}
]
}
